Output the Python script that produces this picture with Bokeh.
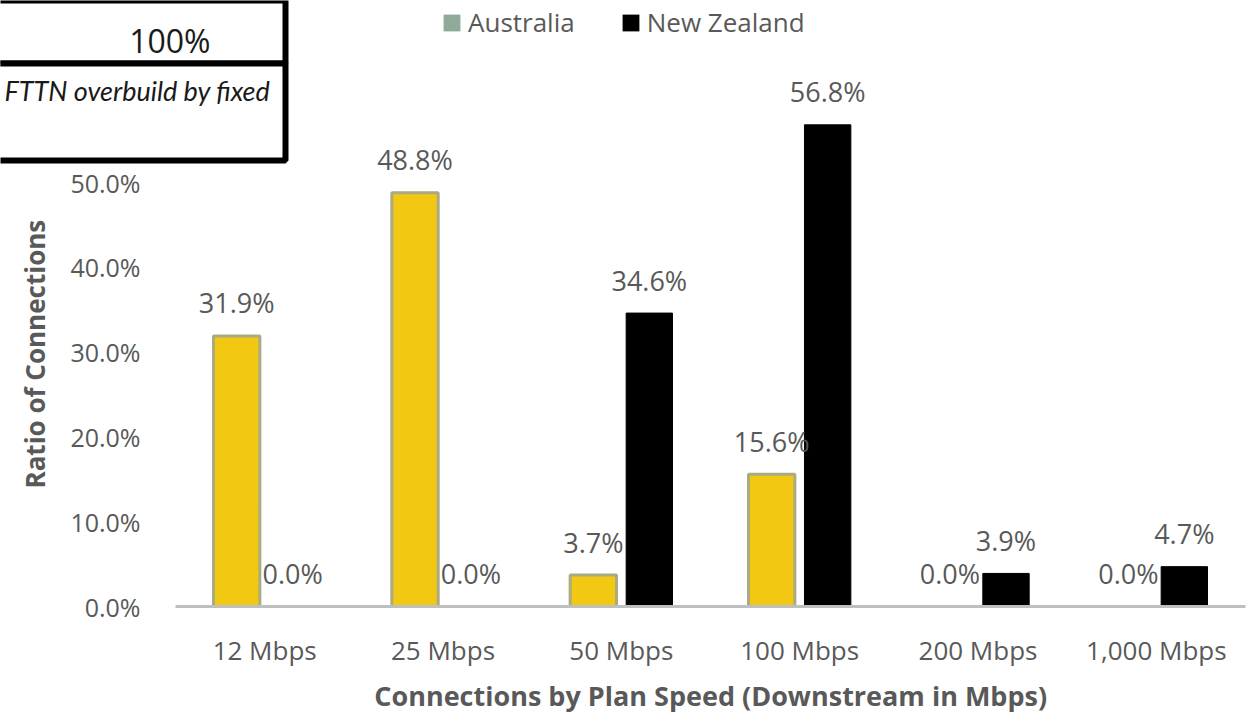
from bokeh.plotting import figure
from bokeh.models import (ColumnDataSource, Range1d, FixedTicker,
                          NumeralTickFormatter, LabelSet, Legend, LegendItem,
                          BoxAnnotation, Label)
from bokeh.core.properties import value
from bokeh.transform import dodge
from bokeh.embed import file_html
from bokeh.resources import INLINE

categories = ["12 Mbps", "25 Mbps", "50 Mbps", "100 Mbps", "200 Mbps", "1,000 Mbps"]
australia = [0.319, 0.488, 0.037, 0.156, 0.0, 0.0]
new_zealand = [0.0, 0.0, 0.346, 0.568, 0.039, 0.047]
y_ticks = [0.0, 0.1, 0.2, 0.3, 0.4, 0.5]
box_value = "100%"
box_note = "FTTN overbuild by fixed"

TXT = "#595959"
FONT = "Open Sans"

x_pos = [i + 0.5 for i in range(len(categories))]
src = ColumnDataSource(dict(
    x=x_pos,
    aus=australia,
    nz=new_zealand,
    aus_lbl=[f"{v*100:.1f}%" for v in australia],
    nz_lbl=[f"{v*100:.1f}%" for v in new_zealand],
))

# the plot frame spans the full width; the category area starts 175px in
p = figure(width=1246, height=717, x_range=Range1d(-175 / (1070 / 6), len(categories)),
           y_range=Range1d(0, 606 / 848), output_backend="svg",
           toolbar_location=None, min_border_left=0, min_border_right=1,
           min_border_top=0, min_border_bottom=111)
p.outline_line_color = None
p.xgrid.grid_line_color = None
p.ygrid.grid_line_color = None

off = 0.157
bw = 0.26
p.vbar(x=dodge("x", -off), top="aus", width=bw, source=src,
       fill_color="#f3c813", line_color="#a9ab83", line_width=3)
p.vbar(x=dodge("x", off), top="nz", width=bw, source=src,
       fill_color="#000000", line_color="#000000")

for col, lbl, o in (("aus", "aus_lbl", -off), ("nz", "nz_lbl", off)):
    ls = LabelSet(x=dodge("x", o), y=col, text=lbl, source=src,
                  y_offset=33, text_align="center", text_baseline="middle",
                  text_font=value(FONT), text_font_size="27px", text_color=TXT)
    p.add_layout(ls)

# y axis (labels drawn inward into the left margin area of the frame)
p.yaxis.ticker = FixedTicker(ticks=y_ticks)
p.yaxis.formatter = NumeralTickFormatter(format="0.0%")
p.yaxis.axis_line_color = None
p.yaxis.major_tick_line_color = None
p.yaxis.minor_tick_line_color = None
p.yaxis.major_tick_out = 0
p.yaxis.major_tick_in = 0
p.yaxis.minor_tick_out = 0
p.yaxis.major_label_standoff = -140
p.yaxis.major_label_text_font = FONT
p.yaxis.major_label_text_font_size = "25px"
p.yaxis.major_label_text_color = TXT
p.yaxis.axis_label = "Ratio of Connections" + "\u00a0" * 15
p.yaxis.axis_label_text_font = FONT
p.yaxis.axis_label_text_font_style = "bold"
p.yaxis.axis_label_text_font_size = "26px"
p.yaxis.axis_label_text_color = TXT
p.yaxis.axis_label_standoff = 14

# x axis
p.xaxis.ticker = FixedTicker(ticks=x_pos)
p.xaxis.major_label_overrides = {x: c for x, c in zip(x_pos, categories)}
p.xaxis.bounds = (0, len(categories))
p.xaxis.axis_line_color = "#bfbfbf"
p.xaxis.axis_line_width = 3
p.xaxis.major_tick_line_color = None
p.xaxis.minor_tick_line_color = None
p.xaxis.major_tick_out = 0
p.xaxis.major_tick_in = 0
p.xaxis.minor_tick_out = 0
p.xaxis.major_label_standoff = 25
p.xaxis.major_label_text_font = FONT
p.xaxis.major_label_text_font_size = "26px"
p.xaxis.major_label_text_color = TXT
p.xaxis.axis_label = "\u00a0" * 25 + "Connections by Plan Speed (Downstream in Mbps)"
p.xaxis.axis_label_text_font = FONT
p.xaxis.axis_label_text_font_style = "bold"
p.xaxis.axis_label_text_font_size = "27px"
p.xaxis.axis_label_text_color = TXT
p.xaxis.axis_label_standoff = 6

# legend swatches: zero-height bars (invisible in the plot, drawn in the legend)
dummy = ColumnDataSource(dict(x=[x_pos[0]], top=[0.0]))
la = p.vbar(x="x", top="top", bottom="top", width=0.01, source=dummy,
            fill_color="#8eaa9b", line_color=None)
ln = p.vbar(x="x", top="top", bottom="top", width=0.01, source=dummy,
            fill_color="#000000", line_color=None)
legend = Legend(items=[LegendItem(label="Australia", renderers=[la]),
                       LegendItem(label="New Zealand", renderers=[ln])],
                orientation="horizontal", location=(441, 566),
                glyph_width=21, glyph_height=21, label_height=21,
                label_standoff=6, spacing=45, padding=0, margin=0,
                border_line_color=None, background_fill_alpha=0,
                label_text_font=FONT, label_text_font_size="26px",
                label_text_color=TXT, label_text_baseline="middle")
p.add_layout(legend, "center")

# overlay box at top-left (screen units relative to the plot frame)
box_kw = dict(left_units="screen", right_units="screen", top_units="screen",
              bottom_units="screen", fill_color="white", fill_alpha=1,
              line_color="black", line_alpha=1, line_width=6, level="overlay")
p.add_layout(BoxAnnotation(left=-5, right=285, top=606, bottom=543, **box_kw))
p.add_layout(BoxAnnotation(left=-5, right=285, top=543, bottom=446, **box_kw))
p.add_layout(Label(x=210, y=566, x_units="screen", y_units="screen", text=box_value,
                   text_align="right", text_baseline="middle", text_font=FONT,
                   text_font_size="32px", text_color="#1a1a1a", level="overlay"))
p.add_layout(Label(x=4, y=516, x_units="screen", y_units="screen", text=box_note,
                   text_align="left", text_baseline="middle", text_font="Lato",
                   text_font_style="italic", text_font_size="27px",
                   text_color="#1a1a1a", level="overlay"))

open("out.html", "w").write(file_html(p, INLINE))
